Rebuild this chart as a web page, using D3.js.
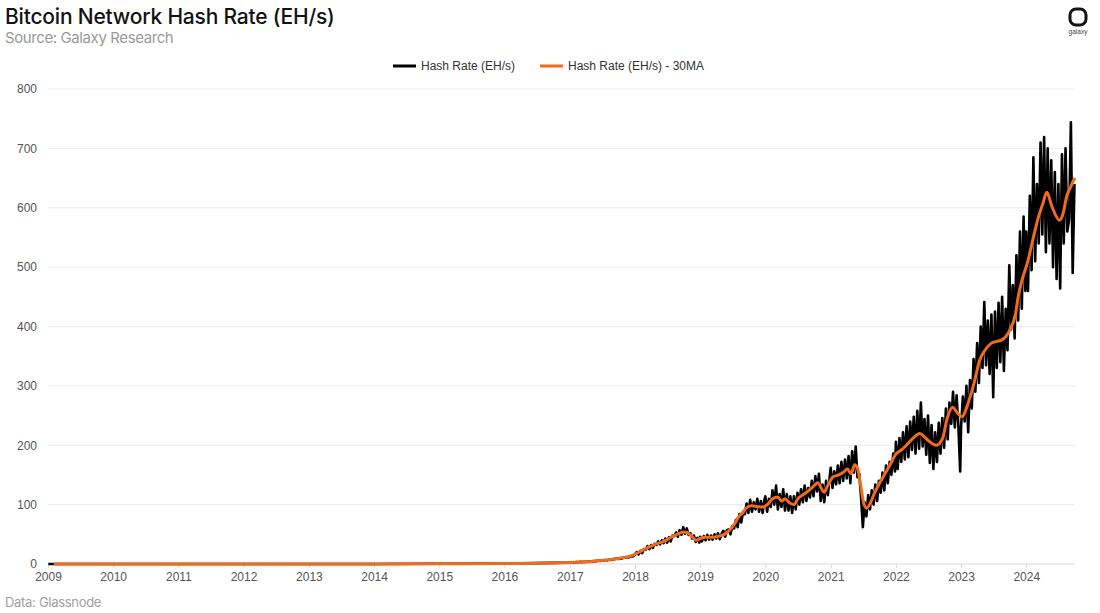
<!DOCTYPE html>
<html>
<head>
<meta charset="utf-8">
<script src="https://cdn.jsdelivr.net/npm/d3@7"></script>
<style>
  html, body { margin: 0; padding: 0; background: #fff; }
  svg { display: block; }
</style>
</head>
<body>
<svg id="chart" width="1100" height="613"></svg>
<script>
// ---------------- DATA ----------------
const yTicks = [0, 100, 200, 300, 400, 500, 600, 700, 800];
const xTickYears = [2009, 2010, 2011, 2012, 2013, 2014, 2015, 2016, 2017, 2018, 2019, 2020, 2021, 2022, 2023, 2024];
const seriesNames = ["Hash Rate (EH/s)", "Hash Rate (EH/s) - 30MA"];

// Raw hash rate before 2017 (EH/s)
const hashEarlyDates = ["2009-01-03", "2010-01-01", "2011-01-01", "2012-01-01", "2013-01-01", "2014-01-01", "2015-01-01", "2016-01-01", "2016-04-01", "2016-07-01", "2016-10-01", "2016-12-31"];
const hashEarlyValues = [0, 0, 0, 0, 0.00002, 0.01, 0.3, 0.8, 1.2, 1.5, 1.9, 2.5];

// Raw hash rate, one reading every 10 days starting Jan 1 of each year (EH/s)
const hash2017 = [2.8, 2.3, 2.9, 2.7, 3.3, 2.8, 3.6, 3.2, 3.8, 3.5, 4.1, 3.6, 4.6, 4.2, 5.0, 4.8, 5.8, 5.2, 6.3, 5.8, 6.6, 6.1, 7.4, 6.6, 7.8, 8.2, 9.1, 8.4, 9.8, 9.0, 10.4, 10.6, 11.8, 11.0, 13.2, 12.6, 14.4];
const hash2018 = [16, 20, 16, 22, 18.5, 25, 24, 30, 25, 32, 27, 34, 32, 38, 33, 40, 35, 43, 36, 45, 38, 48, 47, 53, 46, 57, 49, 62, 51, 60, 49, 52, 43, 48, 37, 44, 36];
const hash2019 = [46, 38, 47, 40, 49, 41, 48, 41, 50, 43, 52, 42, 51, 56, 46, 57, 58, 50, 64, 60, 74, 62, 84, 70, 88, 84, 102, 86, 108, 88, 104, 92, 110, 88, 106, 86, 108];
const hash2020 = [114, 88, 110, 96, 124, 100, 132, 92, 118, 96, 126, 90, 118, 90, 114, 86, 114, 92, 120, 100, 126, 104, 132, 106, 128, 112, 140, 114, 148, 122, 152, 106, 134, 104, 140, 116, 146];
const hash2021 = [162, 128, 156, 134, 166, 136, 172, 140, 176, 144, 182, 136, 190, 154, 198, 146, 152, 112, 62, 104, 80, 116, 92, 124, 100, 134, 106, 140, 120, 154, 124, 166, 136, 172, 150, 186, 156];
const hash2022 = [206, 160, 212, 172, 222, 176, 232, 180, 240, 192, 248, 186, 258, 194, 272, 198, 244, 184, 250, 170, 234, 160, 222, 172, 238, 186, 246, 196, 262, 210, 272, 236, 290, 230, 284, 232, 156];
const hash2023 = [230, 282, 240, 300, 222, 310, 262, 345, 290, 372, 305, 400, 330, 441, 335, 410, 320, 420, 281, 425, 330, 440, 340, 450, 325, 430, 360, 503, 395, 470, 380, 520, 410, 560, 430, 585, 460];
const hash2024 = [560, 460, 620, 495, 685, 510, 640, 540, 710, 555, 719, 525, 700, 540, 680, 500, 660, 480, 640, 464, 690, 540, 700, 560, 580, 744, 490, 640];

// 30-day moving average (EH/s)
const maDates = ["2009-02-02", "2011-01-01", "2013-01-01", "2014-01-01", "2015-01-01", "2016-01-01", "2016-07-01",
  "2017-01-01", "2017-02-01", "2017-03-01", "2017-04-01", "2017-05-01", "2017-06-01", "2017-07-01", "2017-08-01", "2017-09-01", "2017-10-01", "2017-11-01", "2017-12-01",
  "2018-01-01", "2018-02-01", "2018-03-01", "2018-04-01", "2018-05-01", "2018-06-01", "2018-07-01", "2018-08-01", "2018-09-01", "2018-10-01", "2018-10-20", "2018-11-10", "2018-12-10",
  "2019-01-01", "2019-02-01", "2019-03-01", "2019-04-01", "2019-05-01", "2019-06-01", "2019-07-01", "2019-07-20", "2019-08-01", "2019-09-01", "2019-09-15", "2019-10-15", "2019-11-15", "2019-12-15",
  "2020-01-15", "2020-02-10", "2020-03-10", "2020-04-01", "2020-04-20", "2020-05-15", "2020-06-10", "2020-07-01", "2020-08-01", "2020-09-01", "2020-10-01", "2020-10-20", "2020-11-25", "2020-12-15",
  "2021-01-15", "2021-02-15", "2021-03-15", "2021-04-05", "2021-04-25", "2021-05-15", "2021-06-01", "2021-06-15", "2021-07-01", "2021-07-20", "2021-08-10", "2021-09-01", "2021-10-01", "2021-11-01", "2021-12-01",
  "2022-01-01", "2022-02-01", "2022-03-01", "2022-04-01", "2022-05-15", "2022-06-10", "2022-07-01", "2022-08-15", "2022-09-20", "2022-10-15", "2022-11-15", "2022-12-10",
  "2023-01-05", "2023-02-15", "2023-03-15", "2023-04-15", "2023-05-15", "2023-06-20", "2023-07-20", "2023-08-15", "2023-10-01", "2023-11-01", "2023-11-18", "2023-12-10",
  "2024-01-10", "2024-02-10", "2024-03-10", "2024-04-01", "2024-04-25", "2024-05-25", "2024-07-05", "2024-07-25", "2024-08-15", "2024-09-01", "2024-09-20", "2024-09-30"];
const maValues = [0, 0, 0.02, 0.01, 0.3, 0.8, 1.4,
  2.6, 3.0, 3.4, 3.8, 4.4, 5.4, 6.1, 6.9, 8.3, 9.4, 10.8, 12.8,
  16.5, 21, 26, 30, 34, 37, 41, 47, 51, 54, 53, 48, 40,
  43, 45, 45, 46, 48, 53, 63, 71, 78, 88, 94, 98, 97, 96,
  101, 110, 113, 106, 110, 103, 100, 110, 117, 124, 132, 137, 121, 132,
  147, 150, 155, 160, 152, 167, 160, 138, 108, 94, 102, 118, 136, 152, 168,
  185, 192, 200, 210, 220, 214, 208, 200, 212, 245, 264, 255,
  248, 276, 305, 343, 360, 372, 375, 377, 394, 420, 452, 480,
  510, 550, 585, 605, 626, 601, 579, 590, 620, 632, 645, 650];

// ---------------- BUILD ----------------
const parse = d3.timeParse("%Y-%m-%d");
const rawYears = [[2017, hash2017], [2018, hash2018], [2019, hash2019], [2020, hash2020], [2021, hash2021], [2022, hash2022], [2023, hash2023], [2024, hash2024]];
const raw = hashEarlyDates.map((d, i) => ({ date: parse(d), value: hashEarlyValues[i] }));
rawYears.forEach(([yr, arr]) => {
  arr.forEach((v, i) => raw.push({ date: d3.timeDay.offset(new Date(yr, 0, 1), 10 * i), value: v }));
});
const ma = maDates.map((d, i) => ({ date: parse(d), value: maValues[i] }));

const svg = d3.select("#chart");
const W = 1100, H = 613;
const margin = { left: 48, right: 25, top: 89, bottom: 49 };

const x = d3.scaleTime()
  .domain([new Date(2009, 0, 1), new Date(2024, 8, 30)])
  .range([margin.left, W - margin.right]);
const y = d3.scaleLinear()
  .domain([0, 800])
  .range([H - margin.bottom, margin.top]);

const FONT = "'Liberation Sans', Arial, sans-serif";
const HEAD = "Inter, 'Noto Sans', sans-serif";

// Title block
svg.append("text").attr("x", 5).attr("y", 24)
  .attr("font-family", HEAD).attr("font-size", 21).attr("font-weight", 500)
  .attr("letter-spacing", -0.2).attr("fill", "#111")
  .text("Bitcoin Network Hash Rate (EH/s)");
svg.append("text").attr("x", 5).attr("y", 43)
  .attr("font-family", HEAD).attr("font-size", 15)
  .attr("letter-spacing", -0.4).attr("fill", "#9a9a9a")
  .text("Source: Galaxy Research");

// Logo
const logo = svg.append("g").attr("transform", "translate(1078,17)");
logo.append("rect").attr("x", -8).attr("y", -8).attr("width", 16).attr("height", 16)
  .attr("rx", 6).attr("fill", "none").attr("stroke", "#111").attr("stroke-width", 3);
logo.append("text").attr("x", 0).attr("y", 17).attr("text-anchor", "middle")
  .attr("font-family", FONT).attr("font-size", 6.5).attr("fill", "#444").text("galaxy");

// Gridlines
svg.append("g").selectAll("line").data(yTicks).join("line")
  .attr("x1", margin.left).attr("x2", W - margin.right)
  .attr("y1", d => y(d)).attr("y2", d => y(d))
  .attr("stroke", d => d === 0 ? "#d9d9d9" : "#ececec").attr("stroke-width", 1);

// Y axis
const yAxis = svg.append("g").attr("transform", `translate(${margin.left},0)`)
  .call(d3.axisLeft(y).tickValues(yTicks).tickSize(0).tickPadding(11));
yAxis.select(".domain").remove();
yAxis.selectAll("text").attr("font-family", FONT).attr("font-size", 12).attr("fill", "#555");

// X axis
const xAxis = svg.append("g").attr("transform", `translate(0,${y(0)})`)
  .call(d3.axisBottom(x).tickValues(xTickYears.map(yr => new Date(yr, 0, 1)))
    .tickFormat(d3.timeFormat("%Y")).tickSize(4).tickPadding(4));
xAxis.select(".domain").remove();
xAxis.selectAll("line").attr("stroke", "#d9d9d9");
xAxis.selectAll("text").attr("font-family", FONT).attr("font-size", 12).attr("fill", "#555");

// Lines
const lineGen = d3.line().x(d => x(d.date)).y(d => y(d.value));
svg.append("path").datum(raw)
  .attr("d", lineGen)
  .attr("fill", "none").attr("stroke", "#000").attr("stroke-width", 2.6)
  .attr("stroke-linejoin", "round");
svg.append("path").datum(ma)
  .attr("d", lineGen.curve(d3.curveMonotoneX))
  .attr("fill", "none").attr("stroke", "#f26b1d").attr("stroke-width", 3)
  .attr("stroke-linejoin", "round");

// Legend
const legend = svg.append("g").attr("transform", "translate(0,66)");
const legendItems = [
  { name: seriesNames[0], color: "#000", x: 393 },
  { name: seriesNames[1], color: "#f26b1d", x: 540 }
];
legendItems.forEach(it => {
  legend.append("line").attr("x1", it.x).attr("x2", it.x + 23).attr("y1", 0).attr("y2", 0)
    .attr("stroke", it.color).attr("stroke-width", 3);
  legend.append("text").attr("x", it.x + 28).attr("y", 4)
    .attr("font-family", FONT).attr("font-size", 12).attr("fill", "#333").text(it.name);
});

// Footer
svg.append("text").attr("x", 5).attr("y", 607)
  .attr("font-family", HEAD).attr("font-size", 13)
  .attr("letter-spacing", -0.3).attr("fill", "#a0a0a0")
  .text("Data: Glassnode");
</script>
</body>
</html>
